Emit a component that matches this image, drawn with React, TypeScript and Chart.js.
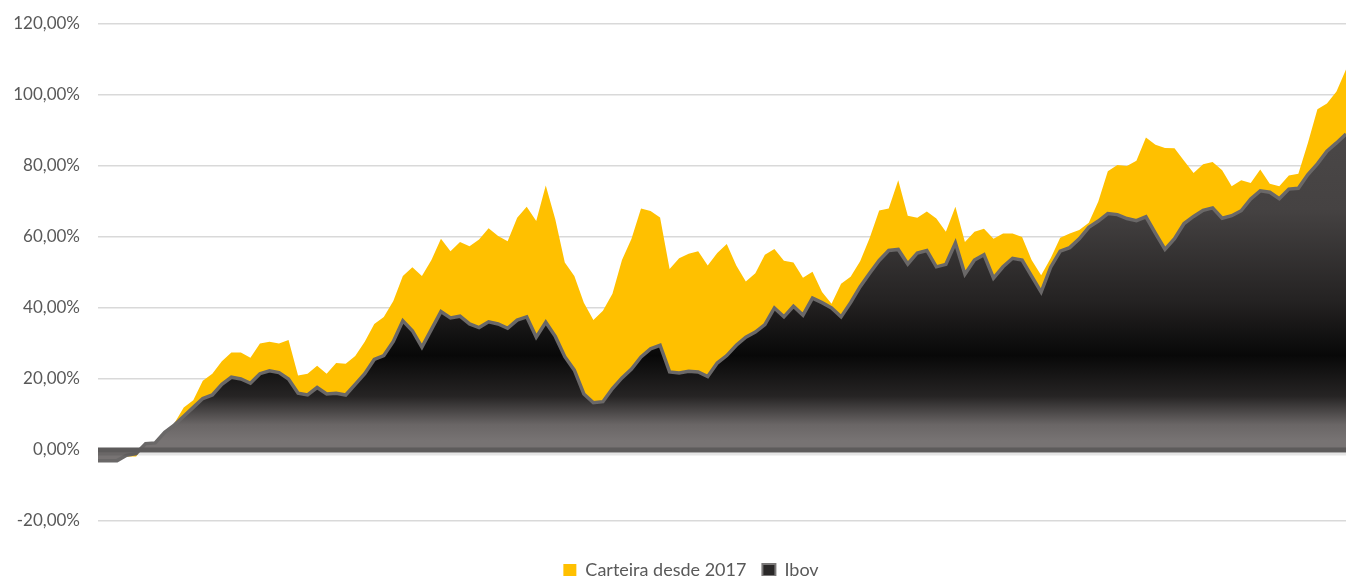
import React, { useEffect, useRef } from "react";
import { Chart, registerables } from "chart.js";

Chart.register(...registerables);

// Series values (% return)
const carteira: number[] = [
  -3, -3, -2.5, -1.8, -1.8, 1.8, 2, 5, 7.5, 12,
  14, 19.5, 21.5, 25, 27.5, 27.5, 26, 30, 30.5, 30,
  31, 21, 21.5, 23.7, 21.5, 24.5, 24.3, 26.5, 30.5, 35.5,
  37.5, 42, 49, 51.5, 49, 53.5, 59.5, 56, 58.6, 57.4,
  59.3, 62.5, 60.3, 58.8, 65.4, 68.5, 64.5, 74.5, 65, 52.8,
  49, 41.5, 36.6, 39.2, 44, 53.5, 59.5, 68, 67.3, 65.5,
  51, 54, 55.3, 56, 52, 55.5, 58, 52, 47.5, 49.8,
  55, 56.6, 53.3, 52.8, 48.5, 50.2, 44.5, 41.2, 46.8, 48.8,
  53.2, 59.7, 67.5, 68, 76, 66, 65.4, 67.2, 65.2, 61.5,
  68.5, 58.6, 61.5, 62.3, 59.5, 61, 61, 60, 53.5, 49.2,
  54, 59.8, 61, 62, 64, 70, 78.5, 80.3, 80, 81.5,
  88, 86, 85.1, 85, 81.5, 78, 80.5, 81.1, 78.8, 74.3,
  76, 75.2, 79, 75, 74.3, 77.3, 77.8, 86.5, 96, 97.6,
  101, 107.2,
];

const ibov: number[] = [
  -3, -3, -3, -1.5, -1, 1.8, 2, 5, 7, 9.5,
  12, 14.5, 15.5, 18.5, 20.5, 20, 18.8, 21.5, 22.3, 21.8,
  20, 16, 15.5, 17.6, 15.8, 16, 15.5, 18.5, 21.5, 25.5,
  26.6, 30.6, 36.4, 33.6, 29, 34, 39, 37.2, 37.7, 35.5,
  34.5, 36.1, 35.5, 34.3, 36.6, 37.5, 31.8, 36, 32, 26.3,
  22.5, 15.8, 13.3, 13.6, 17.3, 20.3, 22.8, 26.2, 28.5, 29.5,
  22, 21.7, 22.2, 22, 20.7, 24.5, 26.6, 29.5, 31.8, 33.2,
  35.3, 40, 37.5, 40.5, 38, 42.8, 41.5, 40, 37.5, 41.5,
  46, 49.8, 53.4, 56.2, 56.5, 52.4, 55.5, 56.2, 51.6, 52.3,
  58.3, 49.5, 53.5, 55, 48.4, 51.6, 54, 53.5, 49, 44.5,
  51.5, 56, 57, 59.5, 62.7, 64.5, 66.6, 66.3, 65.2, 64.6,
  65.7, 61, 56.5, 59.5, 63.8, 65.8, 67.5, 68.2, 65.3, 66,
  67.4, 70.7, 73, 72.6, 70.8, 73.5, 73.7, 77.6, 80.6, 84.2,
  86.5, 89,
];

const categories: string[] = carteira.map((_, i) => String(i + 1));
const seriesNames: string[] = ["Carteira desde 2017", "Ibov"];
const yMin = -20;
const yMax = 120;
const yStep = 20;

const fmtPct = (v: number) => v.toFixed(2).replace(".", ",") + "%";

export default function App() {
  const ref = useRef<HTMLCanvasElement | null>(null);

  useEffect(() => {
    if (!ref.current) return;

    const zeroBand = {
      id: "zeroBand",
      afterDatasetsDraw(chart: any) {
        const { ctx, chartArea, scales } = chart;
        const y0 = scales.y.getPixelForValue(0);
        ctx.save();
        ctx.strokeStyle = "rgba(0,0,0,0.10)";
        ctx.lineWidth = 3;
        ctx.beginPath();
        ctx.moveTo(chartArea.left, y0 + 4);
        ctx.lineTo(chartArea.right, y0 + 4);
        ctx.stroke();
        ctx.strokeStyle = "#5d5b5b";
        ctx.lineWidth = 5;
        ctx.beginPath();
        ctx.moveTo(chartArea.left, y0);
        ctx.lineTo(chartArea.right, y0);
        ctx.stroke();
        ctx.restore();
      },
    };

    // nudge the legend a bit to the right, as in the reference
    const legendShift = {
      id: "legendShift",
      afterLayout(chart: any) {
        const lg = chart.legend;
        if (!lg) return;
        lg.left += 18;
        lg.right += 18;
        if (lg.legendHitBoxes) lg.legendHitBoxes.forEach((h: any) => (h.left += 18));
      },
    };

    const ibovFill = (c: any) => {
      const chart = c.chart;
      if (!chart.chartArea) return "#222";
      const ys = chart.scales.y;
      const top = ys.getPixelForValue(Math.max(...ibov));
      const bottom = ys.getPixelForValue(0);
      const g = chart.ctx.createLinearGradient(0, top, 0, bottom);
      g.addColorStop(0, "#4a4747");
      g.addColorStop(0.24, "#454242");
      g.addColorStop(0.53, "#242222");
      g.addColorStop(0.7, "#080808");
      g.addColorStop(0.83, "#262424");
      g.addColorStop(0.92, "#6a6666");
      g.addColorStop(0.97, "#777373");
      g.addColorStop(1, "#777373");
      return g;
    };

    const chart = new Chart(ref.current, {
      type: "line",
      data: {
        labels: categories,
        datasets: [
          {
            label: seriesNames[0],
            data: carteira,
            backgroundColor: "#FFC000",
            borderColor: "#FFC000",
            borderWidth: 0,
            pointRadius: 0,
            fill: "origin",
            tension: 0,
            order: 2,
          },
          {
            label: seriesNames[1],
            data: ibov,
            backgroundColor: ibovFill,
            borderColor: "#6a6868",
            borderWidth: 3.5,
            pointRadius: 0,
            fill: "origin",
            tension: 0,
            order: 1,
          },
        ],
      },
      options: {
        responsive: false,
        animation: false,
        devicePixelRatio: 1,
        layout: { padding: { left: 0, right: 0, top: 24, bottom: 0 } },
        font: { family: "Lato" },
        plugins: {
          tooltip: { enabled: false },
          legend: {
            position: "bottom",
            onClick: () => {},
            labels: {
              color: "#595959",
              font: { family: "Lato", size: 18 },
              boxWidth: 13,
              boxHeight: 12,
              padding: 16,
              generateLabels: () => [
                {
                  text: seriesNames[0],
                  fillStyle: "#FFC000",
                  strokeStyle: "#FFC000",
                  lineWidth: 0,
                  hidden: false,
                  datasetIndex: 0,
                  fontColor: "#595959",
                },
                {
                  text: seriesNames[1],
                  fillStyle: "#2a2828",
                  strokeStyle: "#7a7878",
                  lineWidth: 2,
                  hidden: false,
                  datasetIndex: 1,
                  fontColor: "#595959",
                },
              ],
            },
          },
        },
        scales: {
          x: {
            display: true,
            ticks: { display: false },
            grid: { display: false },
            border: { display: false },
            afterFit: (s: any) => {
              s.height = 24;
            },
          },
          y: {
            min: yMin,
            max: yMax,
            ticks: {
              stepSize: yStep,
              color: "#595959",
              font: { family: "Lato", size: 17 },
              padding: 18,
              callback: (v: any) => fmtPct(Number(v)),
            },
            grid: {
              drawTicks: false,
              lineWidth: 1.5,
              color: (c: any) => (c.tick && c.tick.value === 0 ? "rgba(0,0,0,0)" : "#d9d9d9"),
            },
            border: { display: false },
            afterFit: (s: any) => {
              s.width = 98;
              s.paddingTop = 0;
              s.paddingBottom = 0;
            },
          },
        },
      },
      plugins: [zeroBand, legendShift],
    } as any);

    return () => chart.destroy();
  }, []);

  return (
    <div
      style={{
        position: "fixed",
        left: 0,
        top: 0,
        width: 1346,
        height: 576,
        overflow: "hidden",
        background: "#fff",
      }}
    >
      <canvas ref={ref} width={1346} height={589} style={{ display: "block" }} />
    </div>
  );
}
